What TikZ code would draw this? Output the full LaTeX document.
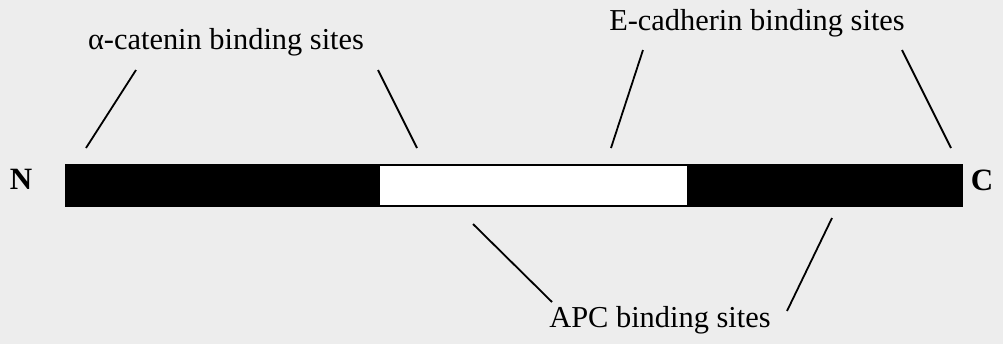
\documentclass[tikz,border=0pt]{standalone}
\usepackage{fontspec}
\setmainfont{Liberation Serif}
\definecolor{bgpaper}{RGB}{237,237,237}
\begin{document}
\begin{tikzpicture}[x=0.5pt,y=-0.5pt,
  lbl/.style={font=\fontsize{15.2}{18}\selectfont, inner sep=0pt},
  term/.style={font=\fontsize{15.5}{18}\selectfont\bfseries, inner sep=0pt},
  seg/.style={draw=black, line width=1pt},
  conn/.style={draw=black, line width=0.9pt}]
\fill[bgpaper] (0,0) rectangle (1003,344);
\useasboundingbox (0,0) rectangle (1003,344);
% bar
\path[seg, fill=black] (66,165) rectangle (379,206);
\path[seg, fill=white] (379,165) rectangle (688,206);
\path[seg, fill=black] (688,165) rectangle (962,206);
% termini
\node[term] (N) at (21,179) {N};
\node[term] (C) at (982,180) {C};
% labels
\node[lbl] (acat) at (226,42) {α-catenin binding sites};
\node[lbl] (ecad) at (757,23) {E-cadherin binding sites};
\node[lbl] (apc) at (660,320) {APC binding sites};
% connector ends
\coordinate (a1t) at (136,70);  \coordinate (a1b) at (86,148);
\coordinate (a2t) at (378,70);  \coordinate (a2b) at (417,148);
\coordinate (e1t) at (643,50);  \coordinate (e1b) at (611,148);
\coordinate (e2t) at (902,50);  \coordinate (e2b) at (951,148);
\coordinate (p1t) at (473,224); \coordinate (p1b) at (552,302);
\coordinate (p2t) at (832,218); \coordinate (p2b) at (787,311);
\draw[conn] (a1t) -- (a1b);
\draw[conn] (a2t) -- (a2b);
\draw[conn] (e1t) -- (e1b);
\draw[conn] (e2t) -- (e2b);
\draw[conn] (p1t) -- (p1b);
\draw[conn] (p2t) -- (p2b);
\end{tikzpicture}
\end{document}
